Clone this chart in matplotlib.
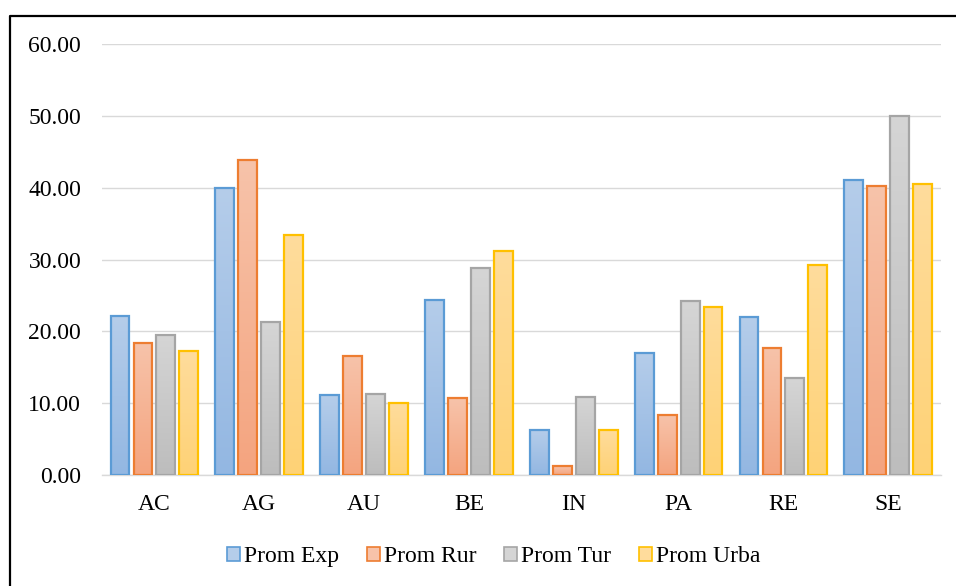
import numpy as np
import matplotlib
matplotlib.use('Agg')
import matplotlib.pyplot as plt
from matplotlib.colors import LinearSegmentedColormap
from matplotlib.lines import Line2D

plt.rcParams['font.family'] = ['Liberation Serif', 'DejaVu Serif']

# datos
categorias = ['AC', 'AG', 'AU', 'BE', 'IN', 'PA', 'RE', 'SE']
prom_exp = [22.1, 40.0, 11.1, 24.4, 6.3, 17.0, 22.0, 41.1]
prom_rur = [18.4, 43.9, 16.6, 10.7, 1.2, 8.4, 17.7, 40.2]
prom_tur = [19.5, 21.3, 11.3, 28.8, 10.9, 24.2, 13.5, 50.0]
prom_urba = [17.3, 33.4, 10.0, 31.2, 6.3, 23.4, 29.2, 40.5]
series = ['Prom Exp', 'Prom Rur', 'Prom Tur', 'Prom Urba']

# (borde, arriba, abajo)
colores = [('#5B9BD5', '#B5CDEA', '#93B7E2'),
           ('#ED7D31', '#F7C3AA', '#F4A47F'),
           ('#A5A5A5', '#D5D5D5', '#BDBDBD'),
           ('#FFC000', '#FFDC9C', '#FED276')]

fig = plt.figure(figsize=(9.56, 5.86), dpi=100)
ax = fig.add_axes([0.1067, 0.1894, 0.8773, 0.7355])

x = np.arange(len(categorias))
paso = 0.219
ancho = 0.18
datos = [prom_exp, prom_rur, prom_tur, prom_urba]

for i, vals in enumerate(datos):
    borde, arriba, abajo = colores[i]
    cmap = LinearSegmentedColormap.from_list('g%d' % i, [abajo, arriba])
    grad = np.linspace(0, 1, 100).reshape(-1, 1)
    pos = x + (i - 1.5) * paso
    for xp, v in zip(pos, vals):
        ax.imshow(grad, cmap=cmap, origin='lower', aspect='auto',
                  extent=[xp - ancho / 2, xp + ancho / 2, 0, v], zorder=2)
    ax.bar(pos, vals, width=ancho, facecolor='none', edgecolor=borde,
           linewidth=1.6, zorder=3)
    # para la leyenda
    ax.bar([0], [0], width=0, color=arriba, edgecolor=borde, linewidth=1.2,
           label=series[i])

ax.set_xlim(-0.5, 7.5)
ax.set_ylim(0, 60)
ax.set_yticks(np.arange(0, 61, 10))
ax.set_yticklabels(['%.2f' % t for t in np.arange(0, 61, 10)])
ax.set_xticks(x)
ax.set_xticklabels(categorias)
ax.grid(axis='y', color='#D9D9D9', linewidth=1.0, zorder=0)
ax.set_axisbelow(True)
for s in ['top', 'right', 'left']:
    ax.spines[s].set_visible(False)
ax.spines['bottom'].set_color('#D9D9D9')
ax.spines['bottom'].set_linewidth(1.0)
ax.tick_params(axis='both', length=0, labelsize=17, colors='black')
ax.tick_params(axis='y', pad=15)
ax.tick_params(axis='x', pad=14)

ax.legend(loc='center', bbox_to_anchor=(0.467, -0.19), ncol=4, frameon=False,
          fontsize=17, handlelength=0.55, handleheight=0.55, handletextpad=0.17,
          columnspacing=1.19)

# marco
fig.add_artist(Line2D([9.5 / 956, 9.5 / 956, 1.0], [0.0, 1 - 15.5 / 586, 1 - 15.5 / 586],
                      color='black', linewidth=1.6, transform=fig.transFigure))

plt.savefig('out.png', dpi=100)
